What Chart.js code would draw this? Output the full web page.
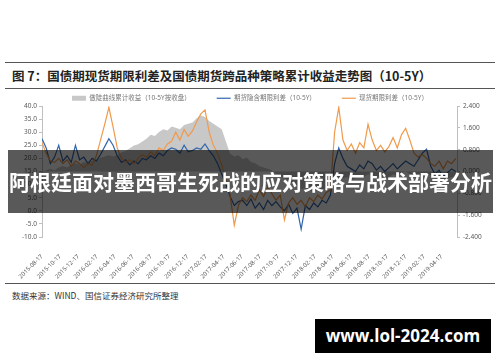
<!DOCTYPE html>
<html>
<head>
<meta charset="utf-8">
<script src="https://cdn.jsdelivr.net/npm/chart.js@4.4.1/dist/chart.umd.min.js"></script>
<style>
  body { margin: 0; width: 500px; height: 362px; background: #fff; position: relative; overflow: hidden; font-family: 'Noto Sans CJK SC', sans-serif; }
  .rule { position: absolute; left: 5px; width: 490px; height: 1px; background: #555; }
  #title { position: absolute; left: 12px; top: 66px; font-size: 12.5px; font-weight: 700; color: #222; white-space: nowrap; }
  #box { position: absolute; left: 0; top: 69px; width: 500px; height: 213px; }
  #src { position: absolute; left: 12px; top: 289px; font-size: 8.5px; color: #333; white-space: nowrap; }
  #band { position: absolute; left: 8px; top: 150px; width: 485px; height: 63px; background: rgba(0,0,0,0.65);
          color: #fff; font-weight: 700; font-size: 21px; line-height: 63px; text-align: center; white-space: nowrap; }
  #site { position: absolute; left: 315px; top: 319px; width: 176px; height: 34px; background: #000; color: #fff;
          font-family: 'Open Sans', sans-serif; font-weight: 700; font-size: 17px; line-height: 34px; text-align: center; }
</style>
</head>
<body>
<div class="rule" style="top:62px"></div>
<div id="title">图 7：国债期现货期限利差及国债期货跨品种策略累计收益走势图（10-5Y）</div>
<div class="rule" style="top:88px"></div>
<div id="box"><canvas id="chart" width="500" height="213"></canvas></div>
<div class="rule" style="top:283px"></div>
<div id="src">数据来源：WIND、国信证券经济研究所整理</div>
<div id="band">阿根廷面对墨西哥生死战的应对策略与战术部署分析</div>
<div id="site">www.lol-2024.com</div>

<script>
// 日期：起点 2015-08-17，每 14 天一个点
const startDate = '2015-08-17';
const stepDays = 14;
const tickDates = ['2015-08-17', '2015-10-17', '2015-12-17', '2016-02-17', '2016-04-17', '2016-06-17',
  '2016-08-17', '2016-10-17', '2016-12-17', '2017-02-17', '2017-04-17', '2017-06-17', '2017-08-17',
  '2017-10-17', '2017-12-17', '2018-02-17', '2018-04-17', '2018-06-17', '2018-08-17', '2018-10-17',
  '2018-12-17', '2019-02-17', '2019-04-17'];

const seriesNames = ['做陡曲线累计收益（10-5Y按收盘）', '期货隐含期限利差（10-5Y）', '现货期限利差（10-5Y）'];

// 做陡曲线累计收益（右轴）
const cumReturn = [0, 0.05, 0.1, 0.05, 0.15, 0.2, 0.15, 0.25, 0.3, 0.25,
  0.35, 0.3, 0.4, 0.45, 0.5, 0.55, 0.6, 0.55, 0.6, 0.7,
  0.75, 0.85, 0.95, 1.0, 1.1, 1.2, 1.35, 1.3, 1.45, 1.55,
  1.5, 1.65, 1.6, 1.55, 1.7, 1.75, 1.8, 1.95, 2.05, 2.0,
  1.85, 1.75, 1.65, 1.55, 1.1, 0.65, 0.55, 0.6, 0.45, 0.5,
  0.35, 0.3, 0.2, 0.15, 0.1, 0.05, -0.1, -0.15, -0.25, -0.3,
  -0.45, -0.5, -0.65, -0.6, -0.7, -0.75, -0.65, -0.7, -0.6, -0.55,
  -0.3, -0.2, -0.25, -0.2, -0.3, -0.25, -0.15, -0.2, -0.1, -0.15,
  -0.2, -0.15, -0.25, -0.2, -0.1, -0.15, -0.05, 0, -0.1, -0.15,
  -0.2, -0.1, -0.05, -0.15, -0.25, -0.2, -0.3, -0.25, -0.2, -0.25];

// 期货隐含期限利差（左轴）
const futSpread = [27.5, 24, 18, 20.5, 25, 19, 21, 18.5, 25, 19.5,
  20.5, 18, 20, 19, 21.5, 24.5, 27.5, 25, 21, 18.5,
  19.5, 17.5, 19, 18, 20, 19.5, 21, 20, 22, 21,
  23, 24, 23.5, 22, 25, 22.5, 23, 24, 23.5, 25.5,
  23, 21, 18, 14, 10, 5.5, 2, 3.5, 4, 2,
  4.5, 1, 3, 0.5, 4, 2, 3.5, 1.5, 0, 2.5,
  -1, 1, -7, 2, 0.5, 3, 1.5, 4, 3, 6,
  18, 24, 20, 17, 16, 15, 17.5, 16, 19, 18,
  15.5, 17, 15, 16.5, 18, 16, 17.5, 19, 18, 17,
  19.5, 22, 23.5, 17, 14, 15.5, 13, 14.5, 16, 15];

// 现货期限利差（左轴）
const spotSpread = [26, 22, 19, 18.5, 20, 18, 19.5, 17, 19, 18,
  16.5, 18, 17.5, 21, 27, 33, 39.5, 32, 24, 20,
  18.5, 19.5, 18, 20, 21.5, 20.5, 22.5, 21, 24, 23,
  25.5, 26.5, 30, 27, 31, 28.5, 30.5, 34, 37, 38.5,
  30, 25, 22, 17.5, 12, 6, -5.5, 2, 5, 3.5,
  6, 4, 8, 5.5, 9, 6.5, 4, 6, -3.5, 3,
  5, 2.5, 4, 1.5, 5, 3.5, 6, 4.5, 7, 8,
  30, 39.5, 27, 23, 25.5, 22, 26, 24, 33, 27,
  23, 25, 22.5, 24.5, 28, 24, 29, 31.5, 27, 22,
  20.5, 21.5, 20, 18, 17, 19, 16, 19, 18, 20];

function dayOffset(s) {
  return (Date.parse(s) - Date.parse(startDate)) / 86400000;
}
function toPoints(arr) {
  return arr.map((v, i) => ({ x: i * stepDays, y: v }));
}

const axisColor = '#595959';
Chart.defaults.font.family = "'Noto Sans', 'Noto Sans CJK SC', sans-serif";
Chart.defaults.color = axisColor;

const ctx = document.getElementById('chart').getContext('2d');
new Chart(ctx, {
  type: 'line',
  data: {
    datasets: [{
      label: seriesNames[0],
      data: toPoints(cumReturn),
      yAxisID: 'y1',
      borderWidth: 0,
      borderColor: '#c8c8c8',
      backgroundColor: '#c8c8c8',
      fill: 'origin',
      pointRadius: 0,
      pointStyle: 'rect',
      order: 3
    }, {
      label: seriesNames[1],
      data: toPoints(futSpread),
      yAxisID: 'y',
      borderColor: '#3267ad',
      backgroundColor: '#3267ad',
      borderWidth: 1.2,
      pointRadius: 0,
      pointStyle: 'line',
      order: 2
    }, {
      label: seriesNames[2],
      data: toPoints(spotSpread),
      yAxisID: 'y',
      borderColor: '#f09a4c',
      backgroundColor: '#f09a4c',
      borderWidth: 1.2,
      pointRadius: 0,
      pointStyle: 'line',
      order: 1
    }]
  },
  options: {
    responsive: false,
    animation: false,
    layout: { padding: 0 },
    plugins: {
      legend: {
        display: true,
        maxHeight: 37,
        labels: {
          usePointStyle: true,
          pointStyleWidth: 14,
          boxHeight: 5,
          padding: 26,
          font: { size: 6.5 },
          color: '#777',
          sort: (a, b) => a.datasetIndex - b.datasetIndex
        }
      },
      tooltip: { enabled: false }
    },
    scales: {
      x: {
        type: 'linear',
        min: 0,
        max: 1390,
        grid: { display: false },
        border: { display: false },
        afterBuildTicks: scale => {
          scale.ticks = tickDates.map(d => ({ value: dayOffset(d) }));
        },
        afterFit: scale => { scale.height = 45; },
        ticks: {
          autoSkip: false,
          maxRotation: 45,
          minRotation: 45,
          padding: 8,
          font: { size: 6 },
          callback: (v, i) => tickDates[i]
        }
      },
      y: {
        position: 'left',
        min: -10,
        max: 40,
        afterFit: scale => { scale.width = 42; },
        grid: { drawOnChartArea: false, tickLength: 3, color: '#bfbfbf' },
        border: { color: '#bfbfbf' },
        ticks: { stepSize: 5, padding: 2, font: { size: 6.5 }, callback: v => v.toFixed(1) }
      },
      y1: {
        position: 'right',
        min: -2.4,
        max: 2.4,
        afterFit: scale => { scale.width = 43; },
        grid: { drawOnChartArea: false, tickLength: 3, color: '#bfbfbf' },
        border: { color: '#bfbfbf' },
        ticks: {
          stepSize: 0.8, padding: 3, font: { size: 6.5 },
          callback: v => (Math.abs(v) < 1e-9 ? 0 : v).toFixed(3)
        }
      }
    }
  }
});
</script>
</body>
</html>
